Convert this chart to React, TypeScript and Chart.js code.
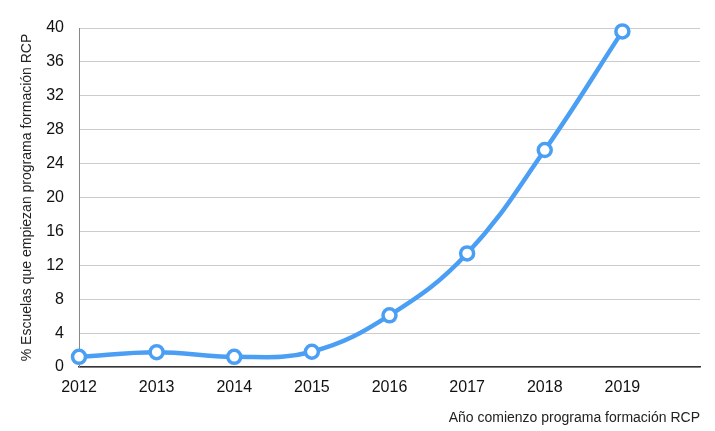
import React, { useEffect, useRef } from "react";
import { Chart, registerables } from "chart.js";

Chart.register(...registerables);

const years = ["2012", "2013", "2014", "2015", "2016", "2017", "2018", "2019", ""];
const percentValues = [1.2, 1.75, 1.2, 1.8, 6.1, 13.4, 25.6, 39.6, null];
const yTicks = [0, 4, 8, 12, 16, 20, 24, 28, 32, 36, 40];
const xTitle = "Año comienzo programa formación RCP";
const yTitle = "% Escuelas que empiezan programa formación RCP";

export default function App() {
  const ref = useRef<HTMLCanvasElement | null>(null);
  useEffect(() => {
    if (!ref.current) return;
    const font = "'Liberation Sans', Arial, Helvetica, sans-serif";
    const chart = new Chart(ref.current, {
      type: "line",
      data: {
        labels: years,
        datasets: [
          {
            data: percentValues as any,
            borderColor: "#4a9ff5",
            borderWidth: 4.5,
            tension: 0.4,
            pointRadius: 6.5,
            pointBorderWidth: 3.5,
            pointBackgroundColor: "#ffffff",
            pointBorderColor: "#4a9ff5",
            fill: false,
            clip: false as any,
          },
        ],
      },
      options: {
        animation: false,
        responsive: false,
        maintainAspectRatio: false,
        layout: { padding: { top: 28, right: 15, left: 19, bottom: 4 } },
        plugins: { legend: { display: false }, tooltip: { enabled: false } },
        scales: {
          x: {
            type: "category",
            offset: false,
            grid: { display: false, drawTicks: false },
            border: { display: true, color: "#333333", width: 1.5 },
            ticks: {
              color: "#111111",
              font: { family: font, size: 16 },
              padding: 11,
              maxRotation: 0,
              autoSkip: false,
            },
            title: {
              display: true,
              text: xTitle,
              align: "end",
              color: "#222222",
              font: { family: font, size: 14 },
              padding: { top: 14, bottom: 0 },
            },
            afterFit: (s: any) => {
              s.height = 60;
            },
          },
          y: {
            min: 0,
            max: 40,
            afterBuildTicks: (s: any) => {
              s.ticks = yTicks.map((v) => ({ value: v }));
            },
            grid: { color: "#cccccc", drawTicks: false, lineWidth: 1 },
            border: { display: true, color: "#888888", width: 1 },
            ticks: {
              color: "#111111",
              font: { family: font, size: 16 },
              padding: 15,
            },
            title: {
              display: true,
              text: yTitle,
              color: "#222222",
              font: { family: font, size: 14 },
              padding: { top: 0, bottom: 6 },
            },
            afterFit: (s: any) => {
              s.width = 60;
            },
          },
        },
      },
    });
    return () => chart.destroy();
  }, []);
  return (
    <div style={{ position: "fixed", left: 0, top: 0, width: 715, height: 431, background: "#fff" }}>
      <canvas ref={ref} width={715} height={431} style={{ width: 715, height: 431 }} />
    </div>
  );
}
